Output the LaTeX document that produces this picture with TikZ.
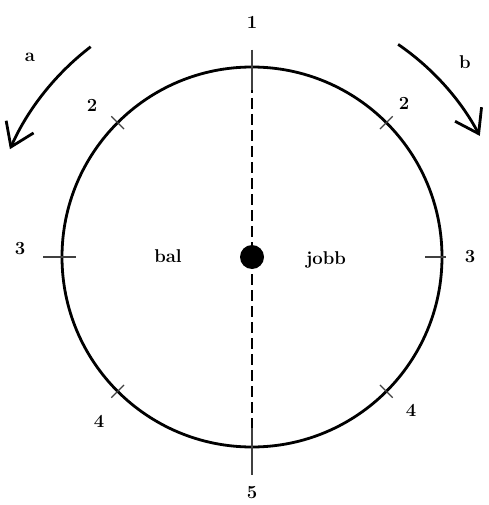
\documentclass[tikz,border=0pt]{standalone}
\usetikzlibrary{arrows.meta,calc}
\begin{document}
\begin{tikzpicture}[x=1pt,y=-1pt,
  lbl/.style={font=\fontsize{18.5}{20}\selectfont\bfseries, inner sep=0pt},
  tickline/.style={line width=1.3pt, draw=black!75},
  bigarrow/.style={line width=2.8pt, -{Straight Barb[length=22pt,width=30pt,line width=2.8pt]}}]
\useasboundingbox (0,0) rectangle (488,505);
\coordinate (O) at (252,257);
\draw[line width=2.8pt] (O) circle (190);
\draw[line width=1.2pt, dash pattern=on 11pt off 5pt] (252,50) -- (252,475);
% ticks
\draw[tickline] (252,50) -- (252,90);
\draw[tickline] (252,428) -- (252,475);
\draw[tickline] (43,257) -- (76,257);
\draw[tickline] (425,257) -- (446,257);
\draw[tickline] ($(O)+(135:181)$) -- ($(O)+(135:199)$);
\draw[tickline] ($(O)+(45:181)$) -- ($(O)+(45:199)$);
\draw[tickline] ($(O)+(225:181)$) -- ($(O)+(225:199)$);
\draw[tickline] ($(O)+(-45:181)$) -- ($(O)+(-45:199)$);
\fill (O) circle (12);
% labels
\node[lbl] (n1) at (252,22) {1};
\node[lbl] (n2l) at (92,105) {2};
\node[lbl] (n2r) at (404,103) {2};
\node[lbl] (n3l) at (20,249) {3};
\node[lbl] (n3r) at (470,257) {3};
\node[lbl] (n4l) at (99,421) {4};
\node[lbl] (n4r) at (411,410) {4};
\node[lbl] (n5) at (252,493) {5};
\node[lbl] (na) at (30,57) {a};
\node[lbl] (nb) at (465,62) {b};
\node[lbl] (bal) at (168,256) {bal};
\node[lbl] (jobb) at (326,260) {jobb};
% arrows
\draw[bigarrow] ($(O)+(-127.5:265)$) arc[start angle=-127.5, end angle=-156, radius=265];
\draw[bigarrow] ($(O)+(-55.5:258)$) arc[start angle=-55.5, end angle=-28, radius=258];
\end{tikzpicture}
\end{document}
